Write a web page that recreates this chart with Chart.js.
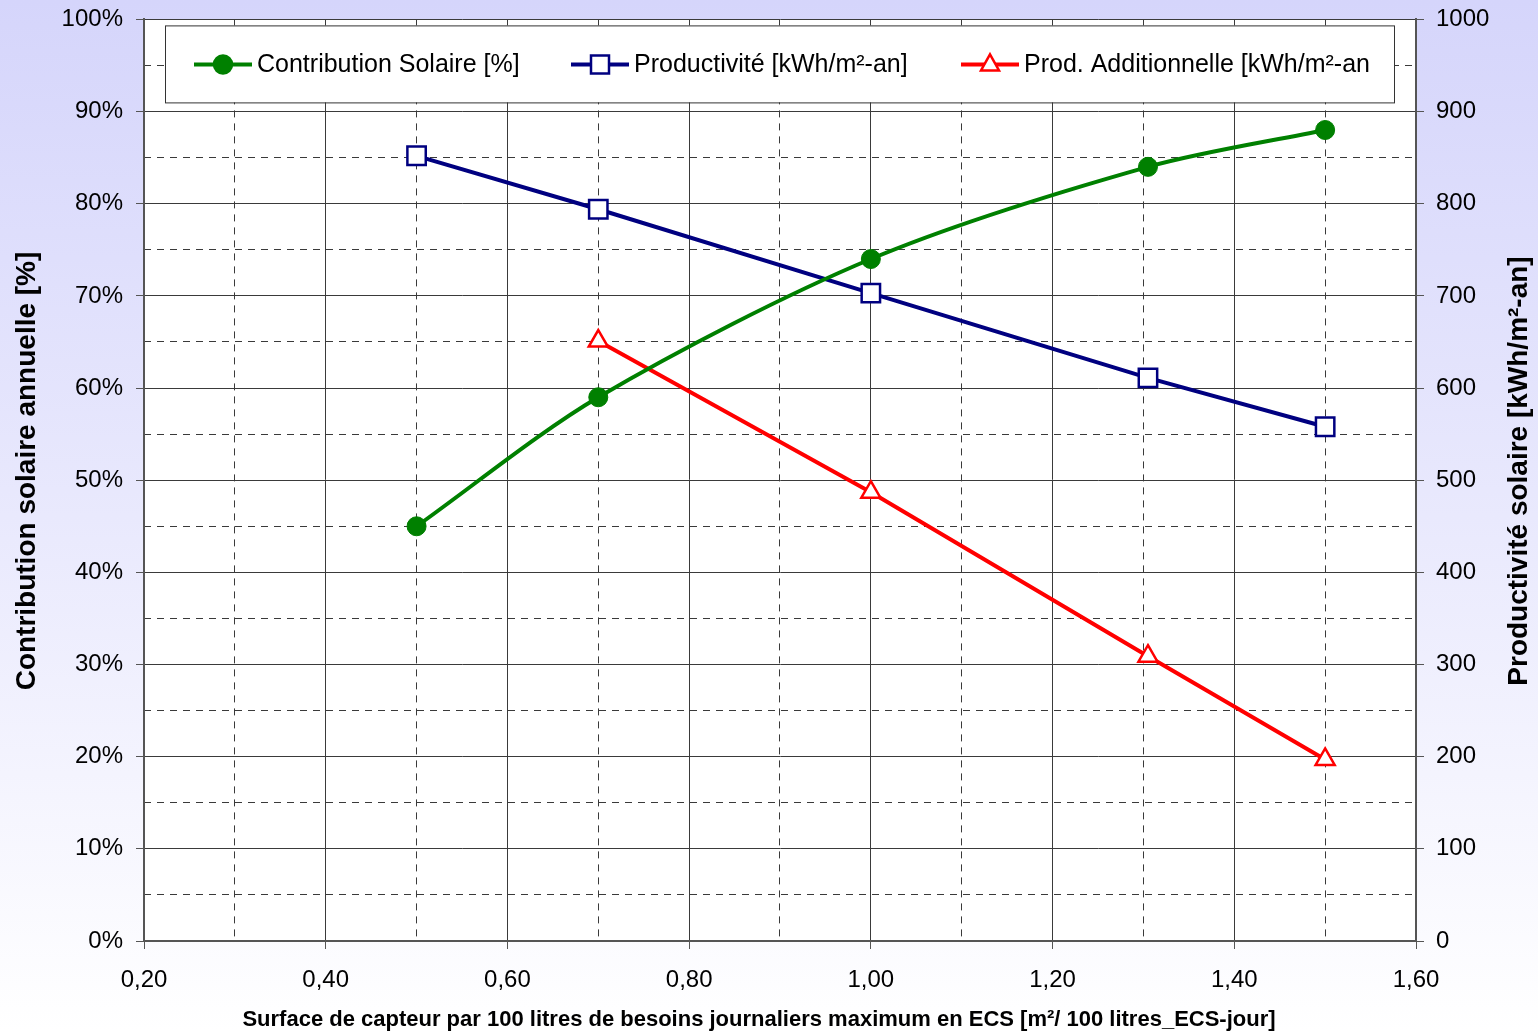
<!DOCTYPE html>
<html>
<head>
<meta charset="utf-8">
<script src="https://cdn.jsdelivr.net/npm/chart.js@4/dist/chart.umd.min.js"></script>
<style>
  html, body { margin: 0; padding: 0; }
  body { background: linear-gradient(#d5d5fb 0%, #e9e9fd 50%, #ffffff 100%); width: 1538px; height: 1032px; overflow: hidden; }
  #wrap { position: relative; width: 1538px; height: 1032px; overflow: hidden; }
  #chart { position: absolute; left: 0; top: -8px; }
</style>
</head>
<body>
<div id="wrap"><canvas id="chart" width="1538" height="1040"></canvas></div>
<script>
// Surface de capteur [m²/100 litres]
const SURFACE = [0.5, 0.7, 1.0, 1.305, 1.5]
// Contribution solaire annuelle [%]
const CONTRIBUTION = [45, 59, 74, 84, 88]
// Productivité [kWh/m²-an]
const PRODUCTIVITE = [852, 794, 703, 611, 558]
// Prod. additionnelle [kWh/m²-an] (pas de valeur à 0,50)
const PROD_ADD = [null, 651, 487, 309, 197]

const LABELS = [
  'Contribution Solaire [%]',
  'Productivité [kWh/m²-an]',
  'Prod. Additionnelle [kWh/m²-an'
]
const TITLE_LEFT = 'Contribution solaire annuelle [%]'
const TITLE_RIGHT = 'Productivité solaire [kWh/m²-an]'
const TITLE_X = 'Surface de capteur par 100 litres de besoins journaliers maximum en ECS [m²/ 100 litres_ECS-jour]'

const FONT = '"Liberation Sans", Arial, sans-serif'
const GRID = '#3a3a3a'
const AXIS = '#555555'
// canvas is shifted up by this much (Chart.js keeps room above the top tick label)
const SHIFT = 8

Chart.defaults.font.family = FONT
Chart.defaults.color = '#000'

function points (ys) {
  return SURFACE.map((x, i) => ({ x, y: ys[i] })).filter((p) => p.y !== null)
}

const plotBackground = {
  id: 'plotBackground',
  beforeDraw (chart) {
    const { ctx, chartArea: a } = chart
    ctx.save()
    ctx.fillStyle = '#ffffff'
    ctx.fillRect(a.left, a.top, a.right - a.left, a.bottom - a.top)
    ctx.restore()
  }
}

function marker (ctx, style, x, y, color) {
  ctx.save()
  ctx.lineWidth = 2.5
  ctx.strokeStyle = color
  ctx.fillStyle = style === 'circle' ? color : '#fff'
  ctx.beginPath()
  if (style === 'circle') {
    ctx.arc(x, y, 9, 0, Math.PI * 2)
  } else if (style === 'rect') {
    ctx.rect(x - 9, y - 9, 18, 18)
  } else {
    ctx.moveTo(x, y - 10)
    ctx.lineTo(x + 9, y + 6)
    ctx.lineTo(x - 9, y + 6)
    ctx.closePath()
  }
  ctx.fill()
  ctx.stroke()
  ctx.restore()
}

// legend box drawn inside the plot, over the grid
const boxLegend = {
  id: 'boxLegend',
  beforeDatasetsDraw (chart) {
    const { ctx, chartArea: a } = chart
    const left = a.left + 21
    const right = a.right - 22
    const top = a.top + 6
    const bottom = a.top + 83
    ctx.save()
    ctx.fillStyle = '#fff'
    ctx.fillRect(left, top, right - left, bottom - top)
    ctx.strokeStyle = '#333'
    ctx.lineWidth = 1
    ctx.strokeRect(left + 0.5, top + 0.5, right - left, bottom - top)
    const xs = [50, 427, 817]
    const yMid = a.top + 45
    ctx.font = '25px ' + FONT
    ctx.textBaseline = 'middle'
    chart.data.datasets.forEach((ds, i) => {
      const x0 = a.left + xs[i]
      ctx.strokeStyle = ds.borderColor
      ctx.lineWidth = 4
      ctx.beginPath()
      ctx.moveTo(x0, yMid)
      ctx.lineTo(x0 + 58, yMid)
      ctx.stroke()
      marker(ctx, ds.pointStyle, x0 + 29, yMid, ds.borderColor)
      ctx.fillStyle = '#000'
      ctx.fillText(ds.label, x0 + 63, yMid + 1)
    })
    ctx.restore()
  }
}

function rotatedTitle (ctx, text, x, y) {
  ctx.save()
  ctx.fillStyle = '#000'
  ctx.textAlign = 'center'
  ctx.textBaseline = 'middle'
  ctx.font = 'bold 28px ' + FONT
  ctx.translate(x, y)
  ctx.rotate(-Math.PI / 2)
  ctx.fillText(text, 0, 0)
  ctx.restore()
}

const axisTitles = {
  id: 'axisTitles',
  afterDraw (chart) {
    const { ctx } = chart
    rotatedTitle(ctx, TITLE_LEFT, 27, 471 + SHIFT)
    rotatedTitle(ctx, TITLE_RIGHT, 1519, 471 + SHIFT)
    ctx.save()
    ctx.fillStyle = '#000'
    ctx.textAlign = 'center'
    ctx.textBaseline = 'middle'
    ctx.font = 'bold 22px ' + FONT
    ctx.fillText(TITLE_X, 759, 1020 + SHIFT)
    ctx.restore()
  }
}

const fmt = (v, d) => v.toFixed(d).replace('.', ',')

new Chart(document.getElementById('chart'), {
  type: 'line',
  data: {
    datasets: [
      {
        label: LABELS[0],
        data: points(CONTRIBUTION),
        yAxisID: 'y',
        borderColor: '#008000',
        backgroundColor: '#008000',
        borderWidth: 4,
        pointStyle: 'circle',
        pointRadius: 9.5,
        pointBorderWidth: 1,
        tension: 0.3
      },
      {
        label: LABELS[1],
        data: points(PRODUCTIVITE),
        yAxisID: 'y2',
        borderColor: '#000080',
        backgroundColor: '#ffffff',
        borderWidth: 4,
        pointStyle: 'rect',
        pointRadius: 13,
        pointBorderWidth: 2.5,
        tension: 0
      },
      {
        label: LABELS[2],
        data: points(PROD_ADD),
        yAxisID: 'y2',
        borderColor: '#ff0000',
        backgroundColor: '#ffffff',
        borderWidth: 4,
        pointStyle: 'triangle',
        pointRadius: 11,
        pointBorderWidth: 2.5,
        tension: 0
      }
    ]
  },
  options: {
    responsive: false,
    devicePixelRatio: 1,
    animation: false,
    layout: { padding: { top: 10, left: 0, right: 0, bottom: 0 } },
    plugins: { legend: { display: false }, tooltip: { enabled: false } },
    scales: {
      x: {
        type: 'linear',
        position: 'bottom',
        min: 0.2,
        max: 1.6,
        afterFit: (s) => { s.height = 91 },
        ticks: { stepSize: 0.2, padding: 17, font: { size: 24 }, callback: (v) => fmt(v, 2) },
        grid: { color: GRID, lineWidth: 1, tickLength: 8, tickColor: AXIS },
        border: { color: AXIS, width: 2 }
      },
      xMinor: {
        type: 'linear',
        position: 'bottom',
        min: 0.2,
        max: 1.6,
        afterFit: (s) => { s.height = 0 },
        ticks: { display: false, stepSize: 0.1 },
        grid: {
          drawTicks: false,
          color: (c) => Math.round(c.tick.value * 10) % 2 === 0 ? 'transparent' : GRID
        },
        border: { display: false, dash: [7, 6] }
      },
      y: {
        position: 'left',
        min: 0,
        max: 100,
        afterFit: (s) => { s.width = 144 },
        ticks: { stepSize: 10, padding: 13, font: { size: 24 }, callback: (v) => v + '%' },
        grid: { color: GRID, lineWidth: 1, tickLength: 8, tickColor: AXIS },
        border: { color: AXIS, width: 2 }
      },
      yMinor: {
        position: 'left',
        min: 0,
        max: 100,
        afterFit: (s) => { s.width = 0 },
        ticks: { display: false, stepSize: 5 },
        grid: {
          drawTicks: false,
          color: (c) => c.tick.value % 10 === 0 ? 'transparent' : GRID
        },
        border: { display: false, dash: [7, 6] }
      },
      y2: {
        position: 'right',
        min: 0,
        max: 1000,
        afterFit: (s) => { s.width = 122 },
        ticks: { stepSize: 100, padding: 12, font: { size: 24 }, callback: (v) => String(v) },
        grid: { drawOnChartArea: false, tickLength: 8, tickColor: AXIS },
        border: { color: AXIS, width: 2 }
      }
    }
  },
  plugins: [plotBackground, boxLegend, axisTitles]
})
</script>
</body>
</html>
